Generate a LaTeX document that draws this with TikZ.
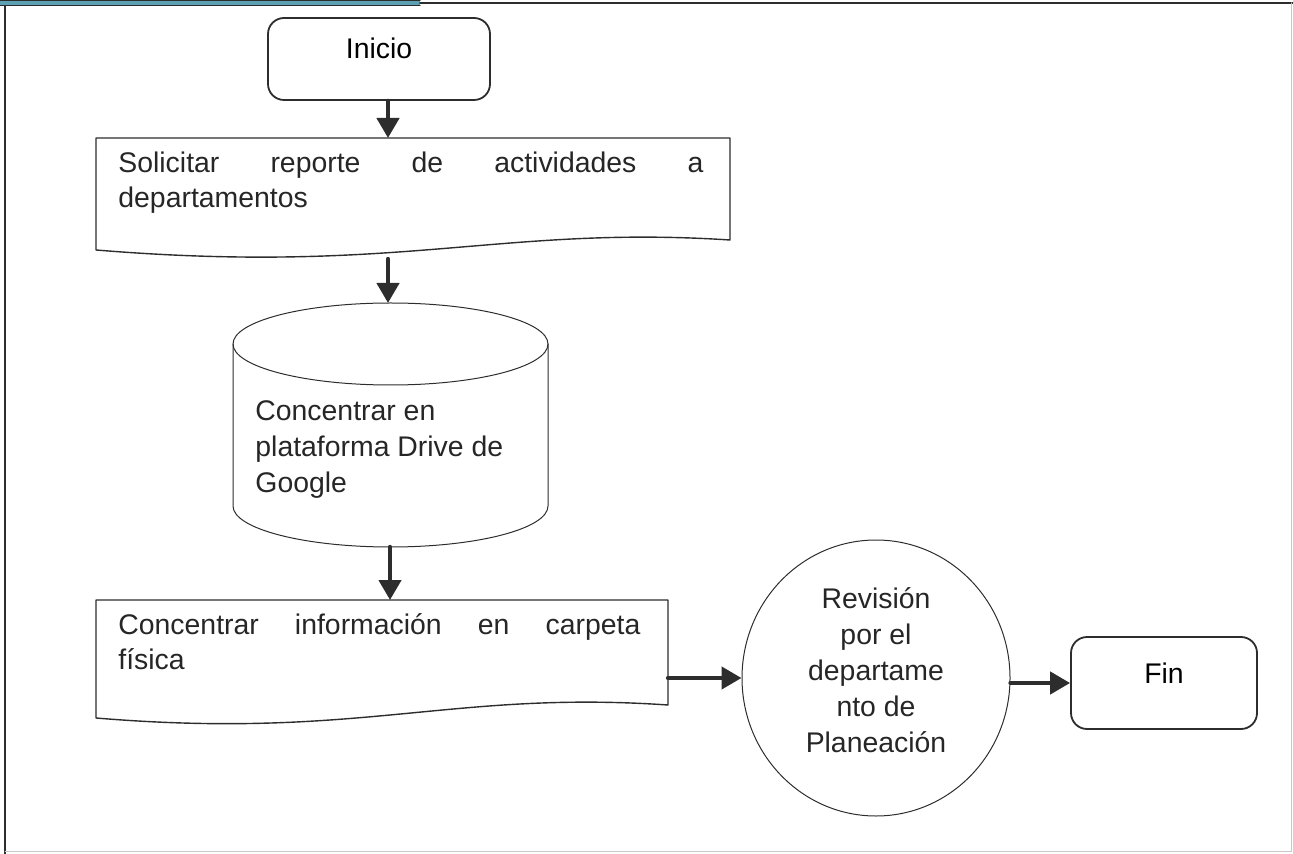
\documentclass[tikz,border=0pt]{standalone}
\usepackage{fontspec}
\setmainfont{Liberation Sans}
\usepackage{xcolor}
\usetikzlibrary{arrows.meta,shapes.geometric,positioning,calc}
\definecolor{inkgray}{RGB}{45,45,45}
\definecolor{barteal}{RGB}{92,160,180}
\definecolor{edgegray}{RGB}{200,200,200}
\begin{document}
\begin{tikzpicture}[line cap=round,line join=round,x=0.5pt,y=-0.5pt,
    flecha/.style={-{Triangle[length=10pt,width=11pt]},line width=2.2pt,color=inkgray},
    terminal/.style={draw=inkgray,line width=0.9pt,rounded corners=8pt,inner sep=0pt,
        font=\fontsize{14.2}{16}\selectfont,text height=10pt,text depth=10pt},
    docline/.style={draw=inkgray,line width=0.7pt},
    thinline/.style={draw=inkgray,line width=0.5pt},
    texto/.style={inner sep=0pt,font=\fontsize{14.2}{17.5}\selectfont,color=black!85}]
    \useasboundingbox (0,0) rectangle (1293,854);
    \fill [barteal] (0,0) rectangle (420,6);
    \draw [inkgray,line width=0.5pt] (0,0.5) -- (420,0.5) (0,6) -- (420,6);
    \draw [inkgray,line width=0.8pt] (420,3) -- (1293,3);
    \draw [inkgray,line width=0.8pt] (5,6) -- (5,854);
    \draw [edgegray,line width=0.5pt] (1291,3) -- (1291,851) -- (5,851);
    \node [terminal,minimum width=111pt,minimum height=41pt] (ini) at (379,59) {Inicio};
    \draw [docline] (96,138) -- (730,138) -- (730,240) .. controls (500,225) and (400,275) .. (96,250) -- cycle;
    \node [texto,text width=292.5pt,align=justify,anchor=north west] (sol) at (118,152)
        {Solicitar reporte de actividades a\linebreak departamentos};
    \coordinate (solin) at (388,138);
    \coordinate (solout) at (388,259);
    \draw [thinline] (390.5,344) ellipse [x radius=157.5,y radius=41];
    \draw [thinline] (233,344) -- (233,506) arc [start angle=180,end angle=0,x radius=157.5,y radius=41] -- (548,344);
    \coordinate (dbin) at (388,303);
    \coordinate (dbout) at (390,547);
    \node [texto,align=left,anchor=north west,font=\fontsize{14.2}{18}\selectfont] (dbtext) at (255,400)
        {Concentrar en\\plataforma Drive de\\Google};
    \draw [docline] (96,600) -- (668,600) -- (668,705) .. controls (450,690) and (360,740) .. (96,718) -- cycle;
    \node [texto,text width=261pt,align=justify,anchor=north west] (conc) at (118,613)
        {Concentrar información en carpeta\linebreak física};
    \coordinate (concin) at (390,600);
    \coordinate (concout) at (668,678);
    \node [ellipse,thinline,minimum width=134pt,minimum height=138pt,inner sep=0pt] (rev) at (876,678) {};
    \node [texto,align=center,font=\fontsize{14.2}{18}\selectfont] (revtext) at (876,670)
        {Revisión\\por el\\departame\\nto de\\Planeación};
    \node [terminal,minimum width=93pt,minimum height=46pt] (fin) at (1164,683) {Fin};
    \draw [flecha] (ini.south -| solin) -- (solin);
    \draw [flecha] (solout) -- (dbin);
    \draw [flecha] (dbout) -- (concin);
    \draw [flecha] (concout) -- (concout -| rev.west);
    \draw [flecha] (rev.east |- fin.west) -- (fin.west);
\end{tikzpicture}
\end{document}
